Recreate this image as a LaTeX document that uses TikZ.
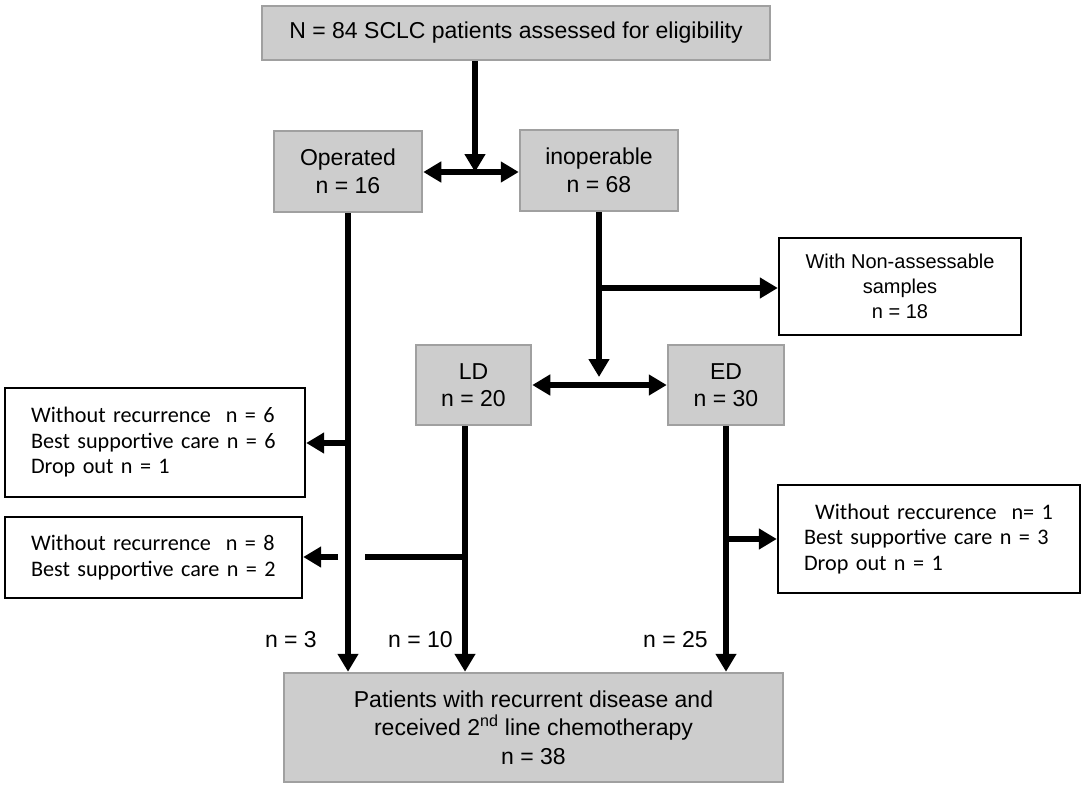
\documentclass[tikz,border=0pt]{standalone}
\usepackage{fontspec}
\setmainfont{Liberation Sans}
\newfontfamily\calfont{Carlito}
\usetikzlibrary{arrows.meta,calc}
\definecolor{boxgray}{HTML}{CDCDCD}
\definecolor{edgegray}{HTML}{A0A0A0}
\begin{document}
\begin{tikzpicture}[x=1pt,y=-1pt,
  graybox/.style={draw=edgegray,line width=2.5pt,fill=boxgray,inner sep=0pt,align=center,
    font=\fontsize{23}{27.5}\selectfont},
  whitebox/.style={draw=black,line width=2.4pt,fill=white,inner sep=0pt,
    font=\calfont\fontsize{22.2}{25.5}\selectfont},
  conn/.style={line width=5.5pt,line cap=butt},
  arr/.style={conn,-{Triangle[length=18pt,width=20pt]}},
  darr/.style={conn,{Triangle[length=18pt,width=20pt]}-{Triangle[length=18pt,width=20pt]}},
  lbl/.style={font=\fontsize{23}{27}\selectfont,inner sep=0pt}]
\useasboundingbox (0,0) rectangle (1084,788);

\node[graybox,minimum width=508pt,minimum height=54pt] (top) at (516,33) {N = 84 SCLC patients assessed for eligibility};
\node[graybox,minimum width=148pt,minimum height=81pt] (op) at (348,171.5) {Operated\\n = 16};
\node[graybox,minimum width=158pt,minimum height=81pt] (inop) at (599,170.5) {inoperable\\n = 68};
\node[whitebox,minimum width=242pt,minimum height=97pt,align=center,
  font=\fontsize{20}{25}\selectfont] (nonass) at (900,286.5) {With Non-assessable\\samples\\n = 18};
\node[graybox,minimum width=115pt,minimum height=80pt] (ld) at (473.5,385) {LD\\n = 20};
\node[graybox,minimum width=116pt,minimum height=80pt] (ed) at (726,385) {ED\\n = 30};
\node[whitebox,minimum width=300pt,minimum height=109pt,align=left,text width=248pt] (b1) at (155,442.5)
  {Without recurrence\ \ n = 6\\Best supportive care n = 6\\Drop out n = 1};
\node[whitebox,minimum width=297pt,minimum height=81pt,align=left,text width=245pt] (b2) at (153.5,557.5)
  {Without recurrence\ \ n = 8\\Best supportive care n = 2};
\node[whitebox,minimum width=302pt,minimum height=108pt,align=left,text width=250pt] (b3) at (929,539)
  {\ \,Without reccurence\ \ n= 1\\Best supportive care n = 3\\Drop out n = 1};
\node[graybox,minimum width=499pt,minimum height=109pt,font=\fontsize{23}{28.5}\selectfont] (bot) at (533.5,727.5)
  {Patients with recurrent disease and\\received 2\textsuperscript{nd} line chemotherapy\\n = 38};

% helper coordinates
\coordinate (j1) at (475,172);
\coordinate (xld) at (465,0);
\coordinate (jin) at (599,377);
\coordinate (yna) at (0,288);
\coordinate (yb1) at (0,443);
\coordinate (yb2) at (0,557);
\coordinate (yb3) at (0,539);
\coordinate (gapR) at (365,557);
\coordinate (gapL) at (338,557);

% top split
\draw[arr] (top.south -| j1) -- (j1);
\draw[darr] (op.east |- 0,172) -- (inop.west |- 0,172);

% inoperable branch
\draw[arr] (inop.south) -- (jin);
\draw[arr] (inop.south |- yna) -- (nonass.west |- yna);
\draw[darr] (ld.east) -- (ed.west);

% operated branch
\draw[arr] (op.south) -- (op.south |- bot.north);
\draw[arr] (op.south |- yb1) -- (b1.east |- yb1);

% LD branch
\draw[arr] (ld.south -| xld) -- (bot.north -| xld);
\draw[conn] (xld |- yb2) -- (gapR);
\draw[arr] (gapL) -- (b2.east |- yb2);

% ED branch
\draw[arr] (ed.south) -- (ed.south |- bot.north);
\draw[arr] (ed.south |- yb3) -- (b3.west |- yb3);

% counts
\node[lbl,anchor=east] (n3) at (317,640) {n = 3};
\node[lbl,anchor=east] (n10) at (453,640) {n = 10};
\node[lbl,anchor=east] (n25) at (708,640) {n = 25};
\end{tikzpicture}
\end{document}
